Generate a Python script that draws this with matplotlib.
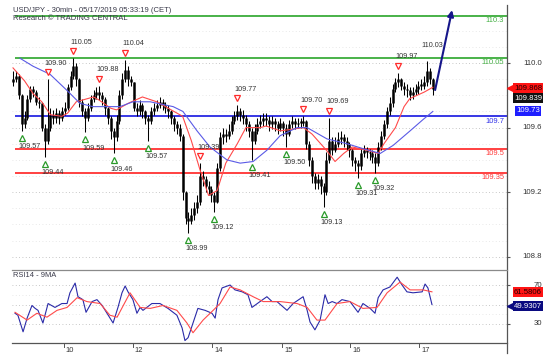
import matplotlib
matplotlib.use("Agg")
import matplotlib.pyplot as plt
import numpy as np
from matplotlib.lines import Line2D
import matplotlib.transforms as mtransforms

plt.rcParams['font.family'] = ['Liberation Sans', 'DejaVu Sans']

# ---------------- data (hourly bars, index 0 = first bar) ----------------
first_open = 109.88
closes = [
    109.90, 109.92, 109.80, 109.62, 109.66, 109.78, 109.84, 109.82, 109.76, 109.75,
    109.60, 109.52, 109.60, 109.68, 109.66, 109.69, 109.66, 109.70, 109.72, 109.85,
    109.92, 109.98, 109.90, 109.76, 109.70, 109.66, 109.72, 109.78, 109.80, 109.82,
    109.80, 109.78, 109.72, 109.66, 109.58, 109.54, 109.64, 109.80, 109.90, 109.96,
    109.90, 109.88, 109.72, 109.70, 109.74, 109.70, 109.66, 109.64, 109.70, 109.72,
    109.74, 109.76, 109.74, 109.72, 109.70, 109.66, 109.62, 109.60, 109.55, 109.20,
    109.04, 109.02, 109.06, 109.10, 109.14, 109.30, 109.28, 109.24, 109.22, 109.18,
    109.14, 109.35, 109.54, 109.56, 109.55, 109.58, 109.64, 109.67, 109.70, 109.68,
    109.66, 109.62, 109.58, 109.52, 109.58, 109.62, 109.64, 109.66, 109.65, 109.62,
    109.64, 109.62, 109.60, 109.63, 109.60, 109.56, 109.62, 109.64, 109.62, 109.63,
    109.63, 109.64, 109.50, 109.40, 109.30, 109.26, 109.28, 109.24, 109.20, 109.40,
    109.52, 109.46, 109.50, 109.53, 109.54, 109.52, 109.50, 109.46, 109.40, 109.38,
    109.36, 109.44, 109.46, 109.45, 109.44, 109.42, 109.38, 109.48, 109.55, 109.62,
    109.70, 109.75, 109.84, 109.88, 109.90, 109.86, 109.84, 109.83, 109.80, 109.82,
    109.84, 109.86, 109.86, 109.88, 109.95, 109.90, 109.84]
highs = [
    109.95, 109.95, 109.93, 109.81, 109.70, 109.80, 109.86, 109.86, 109.83, 109.79,
    109.76, 109.62, 109.90, 109.72, 109.71, 109.72, 109.71, 109.73, 109.76, 109.87,
    109.95, 110.03, 110.00, 109.91, 109.78, 109.72, 109.75, 109.80, 109.83, 109.85,
    109.86, 109.82, 109.79, 109.73, 109.67, 109.60, 109.68, 109.83, 109.94, 110.02,
    109.98, 109.92, 109.88, 109.75, 109.77, 109.75, 109.71, 109.68, 109.73, 109.75,
    109.77, 109.79, 109.78, 109.76, 109.74, 109.71, 109.67, 109.64, 109.62, 109.56,
    109.21, 109.08, 109.10, 109.14, 109.18, 109.38, 109.33, 109.30, 109.27, 109.24,
    109.20, 109.38, 109.57, 109.60, 109.59, 109.62, 109.67, 109.70, 109.74, 109.72,
    109.71, 109.68, 109.64, 109.60, 109.62, 109.66, 109.68, 109.69, 109.69, 109.67,
    109.67, 109.66, 109.64, 109.66, 109.64, 109.62, 109.65, 109.67, 109.66, 109.66,
    109.66, 109.67, 109.65, 109.52, 109.42, 109.32, 109.31, 109.30, 109.26, 109.45,
    109.66, 109.54, 109.54, 109.57, 109.58, 109.56, 109.54, 109.51, 109.47, 109.42,
    109.40, 109.47, 109.49, 109.48, 109.47, 109.46, 109.44, 109.51, 109.58, 109.65,
    109.73, 109.79, 109.87, 109.91, 109.94, 109.91, 109.88, 109.87, 109.85, 109.85,
    109.87, 109.89, 109.90, 109.92, 110.01, 109.97, 109.91]
lows = [
    109.86, 109.88, 109.78, 109.58, 109.60, 109.65, 109.76, 109.79, 109.74, 109.72,
    109.58, 109.42, 109.50, 109.58, 109.62, 109.63, 109.62, 109.64, 109.68, 109.71,
    109.83, 109.90, 109.86, 109.73, 109.67, 109.57, 109.64, 109.70, 109.76, 109.78,
    109.77, 109.74, 109.68, 109.62, 109.53, 109.44, 109.52, 109.62, 109.78, 109.88,
    109.86, 109.86, 109.70, 109.67, 109.68, 109.66, 109.62, 109.52, 109.62, 109.68,
    109.70, 109.72, 109.71, 109.69, 109.66, 109.62, 109.58, 109.56, 109.52, 109.15,
    109.00, 108.95, 109.00, 109.03, 109.07, 109.12, 109.24, 109.20, 109.18, 109.14,
    109.08, 109.13, 109.33, 109.50, 109.51, 109.53, 109.56, 109.62, 109.65, 109.64,
    109.62, 109.58, 109.54, 109.40, 109.50, 109.56, 109.60, 109.61, 109.61, 109.58,
    109.59, 109.58, 109.56, 109.58, 109.55, 109.48, 109.55, 109.60, 109.59, 109.60,
    109.60, 109.61, 109.47, 109.36, 109.26, 109.22, 109.22, 109.19, 109.11, 109.18,
    109.38, 109.43, 109.45, 109.48, 109.50, 109.48, 109.46, 109.42, 109.36, 109.33,
    109.29, 109.34, 109.42, 109.41, 109.40, 109.38, 109.32, 109.36, 109.46, 109.53,
    109.60, 109.68, 109.73, 109.82, 109.85, 109.83, 109.80, 109.79, 109.77, 109.78,
    109.80, 109.81, 109.83, 109.84, 109.86, 109.87, 109.80]

red_ma_x = [0, 4, 7, 10, 13, 17, 19, 22, 28, 30, 34, 36, 40, 45, 50, 55, 59, 62, 65, 68,
            71, 74, 78, 81, 86, 88, 93, 101, 104, 109, 112, 115, 118, 123, 127, 129, 133,
            136, 138, 143, 146]
red_ma_v = [109.97, 109.89, 109.81, 109.76, 109.68, 109.67, 109.69, 109.76, 109.79, 109.77,
            109.72, 109.71, 109.75, 109.79, 109.76, 109.71, 109.67, 109.52, 109.34, 109.18,
            109.21, 109.38, 109.50, 109.60, 109.60, 109.61, 109.58, 109.60, 109.56, 109.46,
            109.39, 109.44, 109.48, 109.46, 109.44, 109.50, 109.60, 109.73, 109.78, 109.82,
            109.85]
blue_ma_x = [2.4, 7, 12.9, 18.8, 23.3, 27.8, 33.7, 37.2, 41.7, 47.7, 55.7, 59.1, 64, 68.5,
             74.4, 79, 83.5, 88.3, 92.9, 98.8, 102.3, 109.2, 116.2, 121.7, 127.7, 132.2,
             138.1, 142.6, 146]
blue_ma_v = [110.03, 109.98, 109.93, 109.83, 109.75, 109.73, 109.73, 109.73, 109.76, 109.76,
             109.73, 109.70, 109.58, 109.48, 109.40, 109.38, 109.39, 109.46, 109.55, 109.60,
             109.60, 109.53, 109.50, 109.47, 109.44, 109.49, 109.58, 109.65, 109.70]

rsi_x = [0.7, 1.7, 3.5, 4.9, 6.6, 7.7, 8.7, 10.4, 12.2, 14.6, 17, 18.8, 19.8, 21.6, 22.6,
         24.3, 25.4, 27.5, 29.2, 31, 32.7, 34.8, 36.5, 37.9, 39, 40, 41.7, 43.1, 44.2, 45.2,
         48.3, 51.1, 53.9, 57, 58.8, 59.8, 60.9, 62.6, 64.3, 66.8, 69.2, 70.3, 71.3, 72.7,
         75.5, 77.2, 79.7, 81.7, 83.1, 85.9, 88.3, 90.1, 91.8, 95.3, 97.4, 100.9, 102.3,
         103.3, 105, 106.8, 108.5, 109.6, 111, 112.7, 114.4, 117.2, 120, 121.7, 124.2,
         125.9, 127, 128.7, 131.1, 133.6, 135.3, 137, 139.1, 142.3, 143.3, 144.3, 145.7]
rsi_v = [41, 39, 22, 36, 49, 46, 44, 31, 51, 47, 51, 51, 62, 72, 58, 55, 42, 53, 55, 49,
         41, 31, 47, 62, 69, 63, 55, 41, 47, 44, 51, 51, 46, 39, 26, 13, 16, 31, 46, 44,
         41, 36, 55, 67, 70, 65, 63, 60, 47, 53, 58, 53, 53, 44, 51, 58, 44, 32, 24, 34,
         60, 51, 53, 51, 55, 53, 42, 51, 46, 41, 57, 65, 68, 78, 70, 63, 62, 63, 71, 67, 50]
rsi_ma_x = [0.7, 4.9, 8.3, 11.8, 15.3, 18.8, 22.3, 25.7, 30.3, 33.7, 36.2, 40.7, 44.2, 47.7,
            52.2, 57, 60.5, 62.6, 66.1, 69.6, 72, 75.5, 79, 83.5, 87, 90.4, 92.9, 98.8,
            102.3, 105.7, 108.5, 112.7, 117.2, 121.7, 126.6, 130.1, 134.6, 138.1, 142.6, 145.7]
rsi_ma_v = [42, 34, 41, 37, 44, 47, 57, 53, 51, 39, 37, 62, 47, 46, 49, 44, 31, 21, 34, 44,
            51, 68, 65, 58, 53, 53, 53, 51, 47, 34, 34, 51, 53, 46, 47, 62, 73, 65, 65, 63]

peak_idx = [12, 21, 30, 39, 65, 78, 101, 110, 134]
peak_text = ['109.90', '110.05', '109.88', '110.04', '109.39', '109.77', '109.70', '109.69', '109.97']
last_peak_idx = 144
last_peak_text = '110.03'
trough_idx = [3, 11, 25, 35, 47, 61, 70, 83, 95, 108, 120, 126]
trough_text = ['109.57', '109.44', '109.59', '109.46', '109.57', '108.99', '109.12', '109.41',
               '109.50', '109.13', '109.31', '109.32']

level_vals = [110.29, 110.03, 109.67, 109.47, 109.32]
level_text = ['110.3', '110.05', '109.7', '109.5', '109.35']
level_colors = ['#2aa52a', '#2aa52a', '#1515e0', '#ff2020', '#ff2020']
level_text_colors = ['#44b044', '#44b044', '#3030e8', '#ff3a3a', '#ff3a3a']

forecast_x = [146.8, 152.7]
forecast_y = [109.833, 110.328]

price_ticks = [110.0, 109.6, 109.2, 108.8]
price_tick_labels = ['110.0', '109.6', '109.2', '108.8']
rsi_ticks = [70, 30]
rsi_tick_labels = ['70', '30']
day_ticks = [17.7, 41.7, 69.2, 93.6, 117.2, 141.2]
day_labels = ['10', '12', '14', '15', '16', '17']

title1 = 'USD/JPY - 30min - 05/17/2019 05:33:19 (CET)'
title2 = 'Research \u00a9 TRADING CENTRAL'
rsi_title = 'RSI14 - 9MA'
box_texts = ['109.868', '109.839', '109.73']
rsi_box_texts = ['61.5806', '49.9307']

# ---------------- figure ----------------
W, H = 554, 361
fig = plt.figure(figsize=(W / 100, H / 100), dpi=100)
fig.patch.set_facecolor('white')


def fx(px):
    return px / W


def fy(py):
    return 1 - py / H


X0, X1 = 12, 507
ax = fig.add_axes([fx(X0), fy(270), (X1 - X0) / W, (270 - 3) / H])
rx = fig.add_axes([fx(X0), fy(343), (X1 - X0) / W, (343 - 270) / H])

xlim = (-0.35, 171.8)
for a in (ax, rx):
    a.set_xlim(*xlim)
    for s in a.spines.values():
        s.set_visible(False)
    a.set_xticks([])
    a.set_facecolor('none')
ax.set_ylim(108.718, 110.372)
rx.set_ylim(10.5, 85.4)

# grid
for v in np.arange(108.8, 110.35, 0.1):
    major = any(abs(v - t) < 1e-6 for t in price_ticks)
    ax.axhline(v, color='#b5b5b5' if major else '#e2e2e2', lw=0.6,
               ls=(0, (1, 3)), zorder=0)
for v in [70, 50, 30]:
    rx.axhline(v, color='#b5b5b5', lw=0.6, ls=(0, (1, 3)), zorder=0)
for v in [60, 40]:
    rx.axhline(v, color='#e2e2e2', lw=0.6, ls=(0, (1, 3)), zorder=0)

# right ticks
ax.set_yticks(price_ticks)
ax.yaxis.set_ticks_position('right')
ax.tick_params(axis='y', length=2.5, width=0.8, color='#555555', labelright=False,
               direction='out')
rx.set_yticks(rsi_ticks)
rx.yaxis.set_ticks_position('right')
rx.tick_params(axis='y', length=2.5, width=0.8, color='#555555', labelright=False,
               direction='out')

tr_price = mtransforms.blended_transform_factory(fig.transFigure, ax.transData)
for v, t in zip(price_ticks, price_tick_labels):
    ax.text(fx(542), v, t, transform=tr_price, ha='right', va='center',
            fontsize=5.6, color='#333333')
tr_rsi = mtransforms.blended_transform_factory(fig.transFigure, rx.transData)
for v, t in zip(rsi_ticks, rsi_tick_labels):
    rx.text(fx(542), v, t, transform=tr_rsi, ha='right', va='center',
            fontsize=5.6, color='#333333')

# levels
x_idx = np.arange(len(closes))
for v, t, c, tc in zip(level_vals, level_text, level_colors, level_text_colors):
    ax.hlines(v, x_idx[0] + 0.6, xlim[1], color=c, lw=1.2, zorder=2)
    off = mtransforms.offset_copy(ax.transData, fig=fig, x=-3, y=-1.2, units='dots')
    ax.text(xlim[1], v, t, transform=off, ha='right', va='top', fontsize=5.4,
            color=tc, zorder=5)

# candles
opens = np.array([first_open] + closes[:-1])
c_arr = np.array(closes)
ax.vlines(x_idx, lows, highs, color='black', lw=0.75, zorder=3)
b_lo = np.minimum(opens, c_arr)
b_hi = np.maximum(np.maximum(opens, c_arr), b_lo + 0.01)
ax.vlines(x_idx, b_lo, b_hi, color='black', lw=1.8, zorder=3)

# moving averages
ax.plot(red_ma_x, red_ma_v, color='#ff4a4a', lw=0.8, zorder=4)
ax.plot(blue_ma_x, blue_ma_v, color='#5a5ae6', lw=0.8, zorder=4)

# peak / trough markers
for i, t in zip(peak_idx, peak_text):
    v = highs[i]
    tri = mtransforms.offset_copy(ax.transData, fig=fig, x=0, y=7, units='dots')
    ax.plot(i, v, marker='v', ms=5, mfc='white', mec='#ff2a2a', mew=0.9,
            transform=tri, zorder=6, clip_on=False)
    lab = mtransforms.offset_copy(ax.transData, fig=fig, x=-3, y=16, units='dots')
    ax.text(i, v, t, transform=lab, ha='left', va='center', fontsize=5.2,
            color='#333333', zorder=6)
lab = mtransforms.offset_copy(ax.transData, fig=fig, x=-6, y=16, units='dots')
ax.text(last_peak_idx, highs[last_peak_idx], last_peak_text, transform=lab, ha='left',
        va='center', fontsize=5.2, color='#333333', zorder=6)
for i, t in zip(trough_idx, trough_text):
    v = lows[i]
    tri = mtransforms.offset_copy(ax.transData, fig=fig, x=0, y=-7, units='dots')
    ax.plot(i, v, marker='^', ms=5, mfc='white', mec='#2a9a2a', mew=0.9,
            transform=tri, zorder=6, clip_on=False)
    lab = mtransforms.offset_copy(ax.transData, fig=fig, x=-3, y=-16, units='dots')
    ax.text(i, v, t, transform=lab, ha='left', va='center', fontsize=5.2,
            color='#333333', zorder=6)

# forecast arrow
ax.annotate('', xy=(forecast_x[1], forecast_y[1]), xytext=(forecast_x[0], forecast_y[0]),
            arrowprops=dict(arrowstyle='-|>', color='#16168a', lw=1.5,
                            mutation_scale=9, shrinkA=0, shrinkB=0), zorder=7)

# RSI
rx.plot(rsi_x, rsi_v, color='#2a2aa8', lw=0.8, zorder=3)
rx.plot(rsi_ma_x, rsi_ma_v, color='#ff4a4a', lw=0.8, zorder=4)

# frame lines
fig.add_artist(Line2D([fx(X1), fx(X1)], [fy(5), fy(353)], color='#555555', lw=0.9))
fig.add_artist(Line2D([fx(X0), fx(X1)], [fy(270), fy(270)], color='#8a8a8a', lw=0.9))
fig.add_artist(Line2D([fx(X0), fx(X1)], [fy(343), fy(343)], color='#555555', lw=0.9))

# day ticks
tr_day = mtransforms.blended_transform_factory(rx.transData, fig.transFigure)
for d, t in zip(day_ticks, day_labels):
    fig.add_artist(Line2D([d, d], [fy(343), fy(347)], color='#555555', lw=0.7,
                          transform=tr_day))
    off = mtransforms.offset_copy(tr_day, fig=fig, x=2, y=0, units='dots')
    fig.text(d, fy(350.5), t, transform=off, ha='left', va='center', fontsize=5.4,
             color='#333333')

# titles
fig.text(fx(13), fy(10), title1, ha='left', va='center', fontsize=5.5, color='#3a3a4a')
fig.text(fx(13), fy(19), title2, ha='left', va='center', fontsize=5.5, color='#3a3a4a')
fig.text(fx(13), fy(275.5), rsi_title, ha='left', va='center', fontsize=5.4,
         color='#3a3a4a')

# value boxes
box_specs = [(88, '#ff1414', '#220000', True), (98, '#111111', 'white', False),
             (111, '#1e1eff', 'white', False)]
for (py, bg, fc, arrow), t in zip(box_specs, box_texts):
    fig.text(fx(528), fy(py), t, ha='center', va='center', fontsize=5.6, color=fc,
             bbox=dict(boxstyle='square,pad=0.18', fc=bg, ec='none'))
    if arrow:
        fig.add_artist(Line2D([fx(510)], [fy(py)], marker='<', ms=4.5, color=bg, mec=bg))
rsi_specs = [(292, '#ff1414', '#220000', False), (306, '#0a0a80', 'white', True)]
for (py, bg, fc, arrow), t in zip(rsi_specs, rsi_box_texts):
    fig.text(fx(528), fy(py), t, ha='center', va='center', fontsize=5.6, color=fc,
             bbox=dict(boxstyle='square,pad=0.18', fc=bg, ec='none'))
    if arrow:
        fig.add_artist(Line2D([fx(510)], [fy(py)], marker='<', ms=4.5, color=bg, mec=bg))

fig.savefig('out.png', dpi=100, facecolor='white')
